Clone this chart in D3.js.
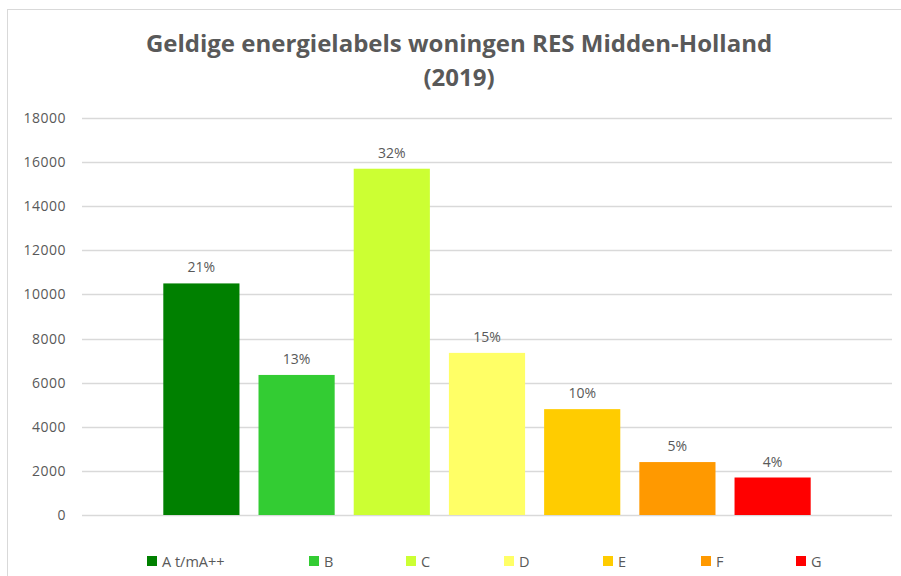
<!DOCTYPE html>
<html>
<head>
<meta charset="utf-8">
<script src="https://cdn.jsdelivr.net/npm/d3@7/dist/d3.min.js"></script>
<style>
  html, body { margin: 0; padding: 0; background: #fff; }
  svg { display: block; }
  text { font-family: "Open Sans", "Noto Sans", sans-serif; fill: #595959; }
</style>
</head>
<body>
<svg id="chart" width="901" height="576"></svg>
<script>
// ---- data ----
const categories = ["A t/mA++", "B", "C", "D", "E", "F", "G"];
const values = [10500, 6350, 15700, 7350, 4800, 2400, 1700];
const percentLabels = ["21%", "13%", "32%", "15%", "10%", "5%", "4%"];
const colors = ["#008000", "#33CC33", "#CCFF33", "#FFFF66", "#FFCC00", "#FF9900", "#FF0000"];
const yTicks = [0, 2000, 4000, 6000, 8000, 10000, 12000, 14000, 16000, 18000];
const titleLines = ["Geldige energielabels woningen RES Midden-Holland", "(2019)"];

// ---- layout ----
const plot = { left: 82, right: 892, top: 118, bottom: 515 };
const svg = d3.select("#chart");

// chart border
svg.append("rect")
  .attr("x", 7.5).attr("y", 9.5)
  .attr("width", 900).attr("height", 580)
  .attr("fill", "none").attr("stroke", "#d9d9d9").attr("stroke-width", 1);

// title
svg.append("g").selectAll("text").data(titleLines).join("text")
  .attr("x", 459)
  .attr("y", (d, i) => 52 + i * 34)
  .attr("text-anchor", "middle")
  .style("font-size", "24px")
  .style("font-weight", "bold")
  .text(d => d);

// scales
const x = d3.scaleBand()
  .domain(categories)
  .range([plot.left, plot.right])
  .paddingInner(0.2)
  .paddingOuter(0.854);

const y = d3.scaleLinear()
  .domain([0, 18000])
  .range([plot.bottom, plot.top]);

// gridlines
svg.append("g").selectAll("line").data(yTicks).join("line")
  .attr("x1", plot.left).attr("x2", plot.right)
  .attr("y1", d => Math.round(y(d)) + 0.5)
  .attr("y2", d => Math.round(y(d)) + 0.5)
  .attr("stroke", "#d9d9d9").attr("stroke-width", 1.3);

// y axis labels via d3 axis
const yAxis = d3.axisLeft(y).tickValues(yTicks).tickSize(0).tickPadding(0).tickFormat(d3.format("d"));
const ya = svg.append("g").attr("transform", `translate(${plot.left - 16},0)`).call(yAxis);
ya.select(".domain").remove();
ya.selectAll("text")
  .style("font-size", "14px")
  .style("font-family", "\"Open Sans\", sans-serif")
  .style("letter-spacing", "0.5px")
  .attr("fill", "#595959");

// bars
svg.append("g").selectAll("rect").data(values).join("rect")
  .attr("x", (d, i) => x(categories[i]))
  .attr("width", x.bandwidth())
  .attr("y", d => y(d))
  .attr("height", d => y(0) - y(d))
  .attr("fill", (d, i) => colors[i]);

// percent labels
svg.append("g").selectAll("text").data(values).join("text")
  .attr("x", (d, i) => x(categories[i]) + x.bandwidth() / 2)
  .attr("y", d => y(d) - 11)
  .attr("text-anchor", "middle")
  .style("font-size", "14px")
  .text((d, i) => percentLabels[i]);

// legend
const legendStartX = [147, 309, 406, 504, 603, 701, 796];
const legendY = 556;
const lg = svg.append("g").selectAll("g").data(categories).join("g")
  .attr("transform", (d, i) => `translate(${legendStartX[i]},${legendY})`);
lg.append("rect").attr("width", 10).attr("height", 10).attr("fill", (d, i) => colors[i]);
lg.append("text")
  .attr("x", 15).attr("y", 10.5)
  .style("font-size", "14.5px")
  .text(d => d);
</script>
</body>
</html>
